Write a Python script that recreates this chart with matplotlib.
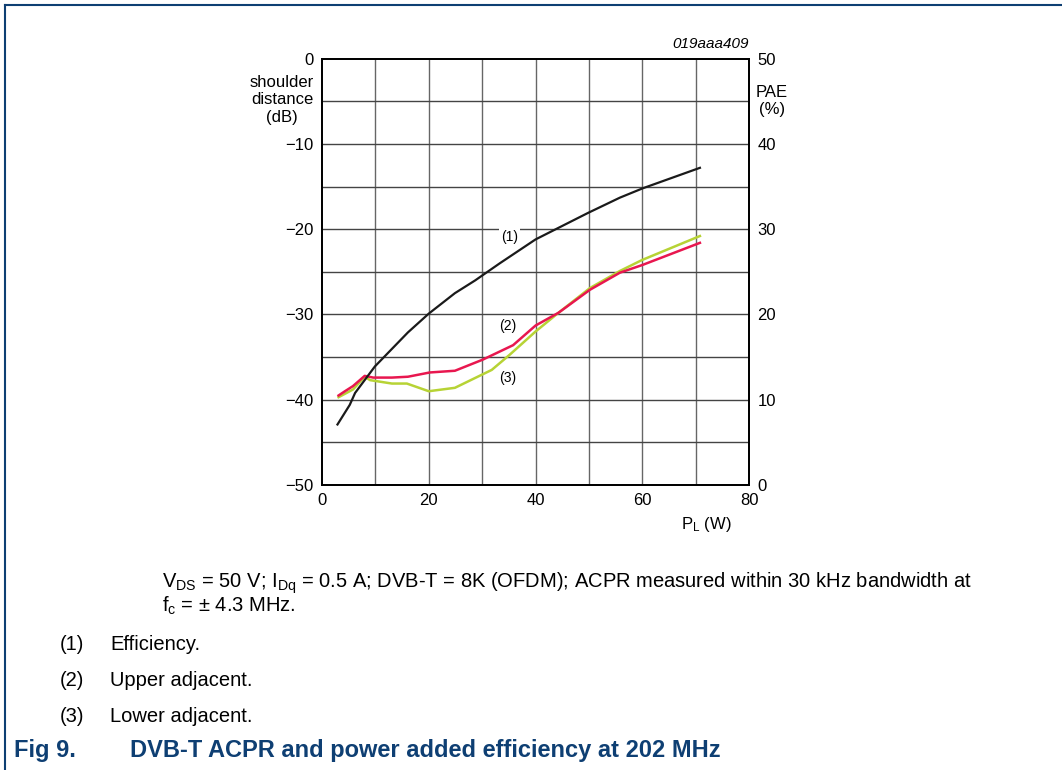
import numpy as np
import matplotlib.pyplot as plt
from matplotlib.lines import Line2D

plt.rcParams['font.family'] = ['Liberation Sans', 'DejaVu Sans']
plt.rcParams['mathtext.fontset'] = 'custom'
plt.rcParams['mathtext.rm'] = 'Liberation Sans'
plt.rcParams['mathtext.it'] = 'Liberation Sans:italic'

# data
# (1) efficiency, PAE (%) on right axis
p_eff = [2.9, 5.2, 6.2, 9.9, 16.1, 20.0, 24.9, 28.7, 33.3, 40.0, 49.8, 55.8, 60.1, 70.8]
pae = [7.1, 9.4, 10.8, 13.9, 17.9, 20.1, 22.5, 24.0, 26.0, 28.8, 31.9, 33.7, 34.8, 37.2]

# (2) upper adjacent, shoulder distance (dB)
p_up = [3.1, 4.3, 5.8, 8.0, 9.6, 13.1, 16.1, 20.2, 24.9, 30.1, 35.8, 40.0, 44.3, 50.2, 55.8, 60.0, 70.8]
upper = [-39.5, -39.0, -38.4, -37.2, -37.4, -37.4, -37.3, -36.8, -36.6, -35.3, -33.6, -31.3, -29.8, -27.1, -25.1, -24.2, -21.6]

# (3) lower adjacent, shoulder distance (dB)
p_lo = [3.1, 5.8, 8.0, 9.0, 13.1, 15.9, 20.0, 24.9, 31.8, 35.2, 40.0, 44.3, 50.2, 55.8, 60.0, 70.8]
lower = [-39.7, -38.8, -37.3, -37.7, -38.1, -38.1, -39.0, -38.6, -36.5, -34.7, -32.0, -29.8, -26.9, -24.9, -23.6, -20.8]

left_ticks = [-50, -40, -30, -20, -10, 0]
left_labels = ['\u221250', '\u221240', '\u221230', '\u221220', '\u221210', '0']
right_ticks = [0, 10, 20, 30, 40, 50]
x_ticks = [0, 20, 40, 60, 80]

fig = plt.figure(figsize=(10.62, 7.7), dpi=100)
ax = fig.add_axes([0.3032, 0.3701, 0.4021, 0.5537])
ax2 = ax.twinx()

ax.set_xlim(0, 80)
ax.set_ylim(-50, 0)
ax2.set_ylim(0, 50)

# grid
for xv in range(10, 80, 10):
    ax.axvline(xv, color='#666666', lw=1.0, zorder=0)
for yv in range(-45, 0, 5):
    ax.axhline(yv, color='#444444', lw=1.0, zorder=0)

ax.plot(p_up, upper, color='#e8174f', lw=1.8, zorder=3)
ax.plot(p_lo, lower, color='#b7d335', lw=1.8, zorder=2)
ax2.plot(p_eff, pae, color='#1a1a1a', lw=1.6, zorder=3)

ax.set_xticks(x_ticks)
ax.set_xticklabels([str(v) for v in x_ticks], fontsize=12)
ax.set_yticks(left_ticks)
ax.set_yticklabels(left_labels, fontsize=12)
ax2.set_yticks(right_ticks)
ax2.set_yticklabels([str(v) for v in right_ticks], fontsize=12)
ax.tick_params(length=0, pad=6)
ax2.tick_params(length=0, pad=6)
for a in (ax, ax2):
    for s in a.spines.values():
        s.set_linewidth(1.3)
        s.set_color('black')

bb = dict(facecolor='white', edgecolor='none', pad=1.5)
ax.text(35.2, -20.9, '(1)', fontsize=10, ha='center', va='center', bbox=bb, zorder=5)
ax.text(34.8, -31.3, '(2)', fontsize=10, ha='center', va='center', bbox=bb, zorder=5)
ax.text(34.8, -37.5, '(3)', fontsize=10, ha='center', va='center', bbox=bb, zorder=5)

ax.text(80, 0.9, '019aaa409', fontsize=11, style='italic', ha='right', va='bottom')

# axis titles
fig.text(282 / 1062, 1 - 100 / 770, 'shoulder\ndistance\n(dB)', fontsize=12,
         ha='center', va='center', linespacing=1.2)
fig.text(772 / 1062, 1 - 101 / 770, 'PAE\n(%)', fontsize=12,
         ha='center', va='center', linespacing=1.2)
fig.text(706 / 1062, 1 - 525 / 770, 'P$_\\mathrm{L}$ (W)', fontsize=12,
         ha='center', va='center')

# caption
fs = 14.5
fig.text(162 / 1062, 1 - 583 / 770,
         'V$_\\mathrm{DS}$ = 50 V; I$_\\mathrm{Dq}$ = 0.5 A; DVB-T = 8K (OFDM); '
         'ACPR measured within 30 kHz bandwidth at', fontsize=fs, ha='left', va='center')
fig.text(162 / 1062, 1 - 606 / 770, 'f$_\\mathrm{c}$ = \u00b1 4.3 MHz.', fontsize=fs,
         ha='left', va='center')
items = ['Efficiency.', 'Upper adjacent.', 'Lower adjacent.']
for i, (yy, txt) in enumerate(zip([645, 681, 716], items)):
    fig.text(60 / 1062, 1 - yy / 770, '(%d)' % (i + 1), fontsize=fs, ha='left', va='center')
    fig.text(110 / 1062, 1 - yy / 770, txt, fontsize=fs, ha='left', va='center')

blue = '#0e3f73'
fig.text(14 / 1062, 1 - 751 / 770, 'Fig 9.', fontsize=17, weight='bold', color=blue,
         ha='left', va='center')
fig.text(130 / 1062, 1 - 751 / 770, 'DVB-T ACPR and power added efficiency at 202 MHz',
         fontsize=17, weight='bold', color=blue, ha='left', va='center')

# frame
fig.add_artist(Line2D([5 / 1062, 5 / 1062], [0, 1 - 5 / 770], color=blue, lw=1.5))
fig.add_artist(Line2D([5 / 1062, 1], [1 - 5 / 770, 1 - 5 / 770], color=blue, lw=1.5))

fig.savefig('out.png', dpi=100)
